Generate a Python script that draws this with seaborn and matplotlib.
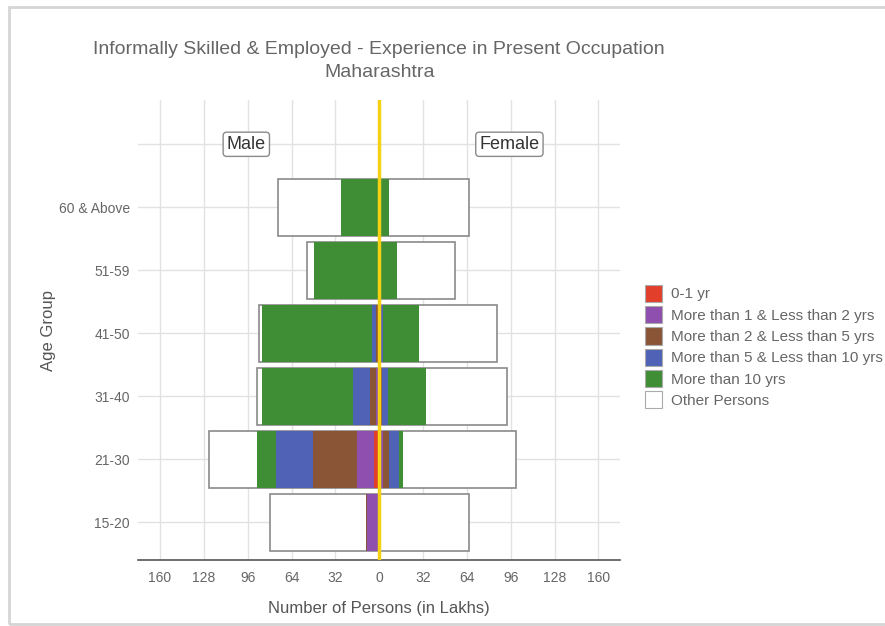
import matplotlib
matplotlib.use("Agg")
import matplotlib.pyplot as plt
from matplotlib.patches import Patch, Rectangle
from matplotlib.ticker import FuncFormatter
import numpy as np
import pandas as pd
import seaborn as sns

age_groups = ['60 & Above', '51-59', '41-50', '31-40', '21-30', '15-20']
categories = ['0-1 yr', 'More than 1 & Less than 2 yrs', 'More than 2 & Less than 5 yrs',
              'More than 5 & Less than 10 yrs', 'More than 10 yrs', 'Other Persons']
colors = ['#e23f2a', '#8e4fae', '#8a5537', '#4f62b6', '#3f8e36', '#ffffff']

# Number of persons in lakhs, per age group (same order as age_groups)
male_0_1 = [0.3, 0.3, 0.5, 1.0, 3.5, 1.0]
male_1_2 = [0.3, 0.3, 0.5, 1.0, 12.5, 8.0]
male_2_5 = [0.3, 0.3, 1.0, 5.0, 32.0, 1.0]
male_5_10 = [0.3, 0.3, 3.0, 12.5, 27.0, 0.0]
male_10_plus = [26.5, 46.2, 80.3, 65.8, 14.0, 0.0]
male_other = [46.3, 5.6, 2.7, 3.7, 35.5, 70.0]

female_0_1 = [0.3, 0.3, 0.5, 0.5, 1.5, 0.5]
female_1_2 = [0.3, 0.3, 0.5, 0.5, 1.0, 0.5]
female_2_5 = [0.3, 0.3, 0.5, 1.0, 5.0, 0.0]
female_5_10 = [0.3, 0.3, 1.0, 4.5, 7.0, 0.0]
female_10_plus = [6.0, 12.0, 26.5, 27.8, 3.0, 0.0]
female_other = [58.3, 41.8, 57.0, 58.7, 82.5, 64.5]

male = np.array([male_0_1, male_1_2, male_2_5, male_5_10, male_10_plus, male_other])
female = np.array([female_0_1, female_1_2, female_2_5, female_5_10, female_10_plus, female_other])
male_cum = male.cumsum(axis=0)
female_cum = female.cumsum(axis=0)

sns.set_theme(style='white')
plt.rcParams['font.family'] = ['Liberation Sans', 'DejaVu Sans']

fig = plt.figure(figsize=(8.85, 6.26), dpi=100)
ax = fig.add_axes([0.156, 0.105, 0.545, 0.735])

# draw outermost layer first so the inner layers sit on top
for k in range(len(categories) - 1, -1, -1):
    white = k == len(categories) - 1
    for vals in (-male_cum[k], female_cum[k]):
        df = pd.DataFrame({'age': age_groups, 'value': vals})
        sns.barplot(data=df, x='value', y='age', orient='h', color=colors[k],
                    saturation=1, width=0.9, ax=ax,
                    edgecolor='#8a8a8a' if white else colors[k],
                    linewidth=1.2 if white else 0)

ax.axvline(0, color='#f4d112', lw=2.5, zorder=5)

ax.set_xlim(-176, 176)
ax.set_xticks(np.arange(-160, 161, 32))
ax.xaxis.set_major_formatter(FuncFormatter(lambda v, p: f'{abs(int(v))}'))
ax.set_ylim(5.6, -1.7)
ax.set_yticks(range(-1, 6))
ax.set_yticklabels([''] + age_groups)

ax.set_axisbelow(True)
ax.grid(True, axis='both', color='#e2e2e2', lw=1)
for s in ['left', 'right', 'top']:
    ax.spines[s].set_visible(False)
ax.spines['bottom'].set_color('#555555')
ax.spines['bottom'].set_linewidth(1.2)
ax.tick_params(axis='both', length=0, labelsize=10, colors='#666666')
ax.tick_params(axis='x', pad=8)
ax.tick_params(axis='y', pad=6)

ax.set_xlabel('Number of Persons (in Lakhs)', fontsize=12, color='#555555', labelpad=11)
ax.set_ylabel('Age Group', fontsize=12, color='#555555', labelpad=2)
ax.set_title('Informally Skilled & Employed - Experience in Present Occupation\nMaharashtra',
             fontsize=14, color='#666666', pad=17, linespacing=1.45)

box = dict(boxstyle='round,pad=0.2', fc='white', ec='#8a8a8a', lw=1)
ax.text(-97, -1, 'Male', ha='center', va='center', fontsize=13, color='#333333', bbox=box, zorder=6)
ax.text(95, -1, 'Female', ha='center', va='center', fontsize=13, color='#333333', bbox=box, zorder=6)

handles = [Patch(facecolor=c, edgecolor='#aaaaaa', lw=0.8) for c in colors]
fig.legend(handles, categories, loc='upper left', bbox_to_anchor=(0.713, 0.567),
           frameon=False, fontsize=11, handlelength=1.1, handleheight=1.35,
           labelspacing=0.27, handletextpad=0.6, labelcolor='#666666')

fig.patches.append(Rectangle((0.0102, 0.003), 1.0, 0.986, transform=fig.transFigure,
                             fill=False, ec='#d5d5d5', lw=2))

fig.savefig('out.png', dpi=100)
